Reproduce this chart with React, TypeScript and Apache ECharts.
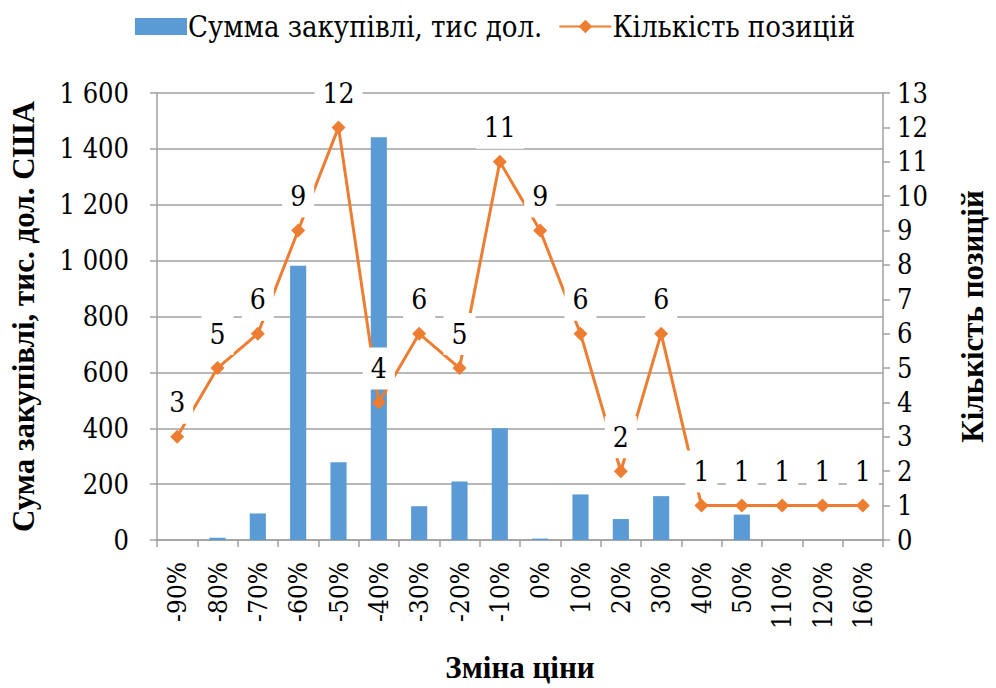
import React, { useEffect, useRef } from "react";
import * as echarts from "echarts";

const categories = ["-90%", "-80%", "-70%", "-60%", "-50%", "-40%", "-30%", "-20%", "-10%", "0%", "10%", "20%", "30%", "40%", "50%", "110%", "120%", "160%"];
const purchaseSum = [0, 8, 95, 982, 278, 1442, 121, 209, 400, 5, 163, 75, 157, 0, 91, 0, 0, 0];
const positionsCount = [3, 5, 6, 9, 12, 4, 6, 5, 11, 9, 6, 2, 6, 1, 1, 1, 1, 1];

const FONT_R = "DejaVu Serif Condensed, DejaVu Serif";
const FONT_B = "Liberation Serif";
const GRID_COLOR = "#a0a0a0";

function fmtThousands(v: number): string {
  if (v >= 1000) {
    const th = Math.floor(v / 1000);
    const rest = String(v % 1000).padStart(3, "0");
    return `${th} ${rest}`;
  }
  return String(v);
}

const txt = (size: number) => ({
  fontFamily: FONT_R,
  fontSize: size,
  fontWeight: "normal",
  color: "#000",
});
const bold = (size: number) => ({
  fontFamily: FONT_B,
  fontSize: size,
  fontWeight: "bold",
  color: "#000",
});

export default function App() {
  const ref = useRef<HTMLDivElement>(null);
  useEffect(() => {
    if (!ref.current) return;
    const chart = echarts.init(ref.current, undefined, { renderer: "svg" });
    chart.setOption({
      animation: false,
      textStyle: txt(27),
      legend: {
        top: 7,
        left: 130,
        itemGap: 16,
        itemWidth: 52,
        itemHeight: 17,
        textStyle: { ...txt(29), padding: [0, 0, 0, -4] },
        data: [
          { name: "Сумма закупівлі, тис дол.", icon: "rect" },
          { name: "Кількість позицій" },
        ],
      },
      grid: { left: 148, right: 103, top: 93, bottom: 136, containLabel: false },
      xAxis: {
        type: "category",
        data: categories,
        boundaryGap: true,
        name: "Зміна ціни",
        nameLocation: "middle",
        nameGap: 112,
        nameTextStyle: bold(31),
        axisLine: { lineStyle: { color: GRID_COLOR, width: 1.5 } },
        axisTick: { show: true, interval: 0, length: 7, lineStyle: { color: GRID_COLOR, width: 1.5 } },
        axisLabel: { ...txt(26), interval: 0, rotate: 90, margin: 22 },
      },
      yAxis: [
        {
          type: "value",
          min: 0,
          max: 1600,
          interval: 200,
          name: "Сума закупівлі, тис. дол. США",
          nameLocation: "middle",
          nameRotate: 90,
          nameGap: 118,
          nameTextStyle: bold(31),
          axisLine: { show: true, lineStyle: { color: GRID_COLOR, width: 1.5 } },
          axisTick: { show: true, length: 7, lineStyle: { color: GRID_COLOR, width: 1.5 } },
          axisLabel: { ...txt(27), margin: 28, formatter: (v: number) => fmtThousands(v) },
          splitLine: { show: true, lineStyle: { color: GRID_COLOR, width: 1.5 } },
        },
        {
          type: "value",
          min: 0,
          max: 13,
          interval: 1,
          position: "right",
          name: "Кількість позицій",
          nameLocation: "middle",
          nameRotate: 90,
          nameGap: 74,
          nameTextStyle: bold(31),
          axisLine: { show: true, lineStyle: { color: GRID_COLOR, width: 1.5 } },
          axisTick: { show: true, length: 7, lineStyle: { color: GRID_COLOR, width: 1.5 } },
          axisLabel: { ...txt(27), margin: 14 },
          splitLine: { show: false },
        },
      ],
      series: [
        {
          name: "Сумма закупівлі, тис дол.",
          type: "bar",
          yAxisIndex: 0,
          data: purchaseSum,
          barWidth: "40%",
          itemStyle: { color: "#5b9bd5" },
          z: 2,
        },
        {
          name: "Кількість позицій",
          type: "line",
          yAxisIndex: 1,
          data: positionsCount,
          symbol: "diamond",
          symbolSize: 14,
          lineStyle: { color: "#ed7d31", width: 3 },
          itemStyle: { color: "#ed7d31" },
          z: 3,
          label: {
            show: true,
            position: "top",
            distance: 6,
            ...txt(28),
            backgroundColor: "#fff",
            padding: [7, 8],
          },
        },
      ],
    });
    return () => chart.dispose();
  }, []);
  return <div ref={ref} style={{ position: "absolute", left: 0, top: 0, width: 996, height: 688 }} />;
}
